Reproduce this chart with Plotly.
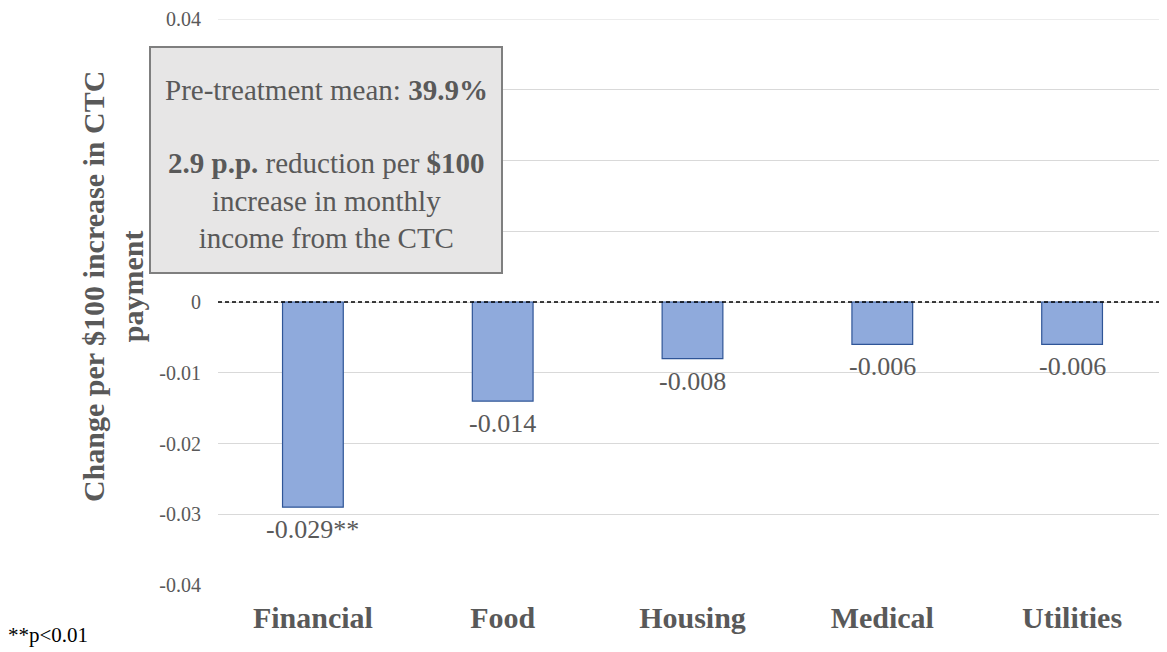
import plotly.graph_objects as go

categories = ["Financial", "Food", "Housing", "Medical", "Utilities"]
values = [-0.029, -0.014, -0.008, -0.006, -0.006]
labels = ["-0.029**", "-0.014", "-0.008", "-0.006", "-0.006"]
tick_vals = [-0.04, -0.03, -0.02, -0.01, 0, 0.01, 0.02, 0.03, 0.04]
tick_text = ["-0.04", "-0.03", "-0.02", "-0.01", "0", "", "", "", "0.04"]

serif = "Liberation Serif, Times New Roman, serif"
grey = "#595959"

# strona ma margines 8px, wiec wszystko przesuniete o 8px
L, T, W, H = 210, 9, 949, 568

def px(x):
    return (x - 8 - L) / W

def py(y):
    return (T + H - (y - 8)) / H

fig = go.Figure()
fig.add_trace(go.Bar(
    x=categories, y=values,
    marker=dict(color="#8FAADC", line=dict(color="#2F5597", width=1.2)),
    width=0.32,
))

# etykiety wartosci pod slupkami
for c, v, t in zip(categories, values, labels):
    fig.add_annotation(x=c, y=v, text=t, showarrow=False,
                       xanchor="center", yanchor="top", yshift=-6,
                       font=dict(family=serif, size=26, color=grey))

# gorna linia siatki (plotly pomija ja na krawedzi)
fig.add_shape(type="line", xref="paper", yref="y", x0=0, x1=1,
              y0=tick_vals[-1], y1=tick_vals[-1], layer="below",
              line=dict(color="#D9D9D9", width=1))

# linia zerowa
fig.add_shape(type="line", xref="paper", yref="y", x0=0, x1=1, y0=0, y1=0,
              line=dict(color="black", width=1.3, dash="4px,3px"))

# ramka z opisem
fig.add_shape(type="rect", xref="paper", yref="paper",
              x0=px(150), x1=px(502), y0=py(272), y1=py(45),
              fillcolor="#E7E6E6", line=dict(color="#7F7F7F", width=2))
fig.add_annotation(
    xref="paper", yref="paper", x=px(326), y=py(88),
    xanchor="center", yanchor="middle",
    text="Pre-treatment mean: <b>39.9%</b>", showarrow=False,
    font=dict(family=serif, size=29, color=grey))
fig.add_annotation(
    xref="paper", yref="paper", x=px(326), y=py(199),
    xanchor="center", yanchor="middle",
    text="<b>2.9 p.p.</b> reduction per <b>$100</b><br>increase in monthly<br>income from the CTC",
    showarrow=False, align="center",
    font=dict(family=serif, size=29, color=grey))

# tytul osi y
fig.add_annotation(
    xref="paper", yref="paper", x=px(113), y=py(286),
    xanchor="center", yanchor="middle", textangle=-90,
    text="<b>Change per $100 increase in CTC<br>payment</b>",
    showarrow=False, align="center",
    font=dict(family=serif, size=30, color=grey))

# przypis
fig.add_annotation(
    xref="paper", yref="paper", x=px(6), y=py(635),
    xanchor="left", yanchor="middle",
    text="**p<0.01", showarrow=False,
    font=dict(family=serif, size=21, color="black"))

fig.update_xaxes(showgrid=False, zeroline=False, showline=False, ticks="",
                 ticklabelstandoff=12,
                 tickfont=dict(family=serif, size=30, color=grey, weight="bold"))
fig.update_yaxes(range=[-0.04, 0.04], tickvals=tick_vals, ticktext=tick_text,
                 showgrid=True, gridcolor="#D9D9D9", gridwidth=1, zeroline=False,
                 ticks="", ticklabelstandoff=16, ticklabeloverflow="allow",
                 tickfont=dict(family=serif, size=20, color=grey))

fig.update_layout(
    width=1159, height=644,
    showlegend=False,
    plot_bgcolor="white", paper_bgcolor="white",
    margin=dict(l=L, r=0, t=T, b=644 - T - H),
    bargap=0.68,
)
fig.write_html("out.html")
